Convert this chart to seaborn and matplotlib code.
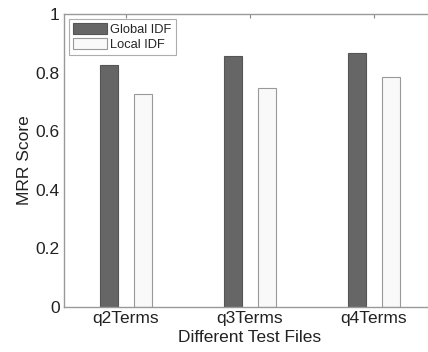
import pandas as pd
import matplotlib
matplotlib.use("Agg")
import matplotlib.pyplot as plt
import seaborn as sns

# Datos
archivos = ["q2Terms", "q3Terms", "q4Terms"]
global_idf = [0.826, 0.857, 0.867]
local_idf = [0.727, 0.747, 0.785]

df = pd.DataFrame({
    "Archivo": archivos * 2,
    "MRR": global_idf + local_idf,
    "Tipo": ["Global IDF"] * 3 + ["Local IDF"] * 3,
})

sns.set_style("white")
plt.rcParams["font.family"] = ["Liberation Sans", "DejaVu Sans"]

fig = plt.figure(figsize=(4.28, 3.52), dpi=100)
ax = fig.add_axes([0.1495, 0.128, 0.869, 0.832])

sns.barplot(data=df, x="Archivo", y="MRR", hue="Tipo", ax=ax,
            palette={"Global IDF": "#666666", "Local IDF": "#f9f9f9"},
            width=0.56, gap=0.48, edgecolor="#555555", linewidth=0.8)

# bordes de las barras claras
for p in ax.patches[3:6]:
    p.set_edgecolor("#999999")

ax.set_xlim(-0.5, 2.5)
ax.set_ylim(0, 1)
ax.set_yticks([0, 0.2, 0.4, 0.6, 0.8, 1])
ax.set_yticklabels(["0", "0.2", "0.4", "0.6", "0.8", "1"])
ax.set_xlabel("Different Test Files", fontsize=12.5, color="#222222", labelpad=3)
ax.set_ylabel("MRR Score", fontsize=12.5, color="#222222", labelpad=3)
ax.tick_params(axis="both", direction="in", length=3, width=0.8, color="#888888",
               labelsize=12.5, labelcolor="#222222", top=True, right=True, pad=3)
for s in ax.spines.values():
    s.set_visible(True)
    s.set_color("#999999")
    s.set_linewidth(1)

leg = ax.legend(loc="upper left", fontsize=9.3, frameon=True, fancybox=False,
                edgecolor="#999999", handlelength=2.6, handleheight=0.9,
                borderpad=0.3, labelspacing=0.15, handletextpad=0.3,
                borderaxespad=0.4)
leg.get_frame().set_linewidth(0.8)
for h in leg.legend_handles[1:]:
    h.set_edgecolor("#999999")

fig.savefig("out.png", dpi=100)
